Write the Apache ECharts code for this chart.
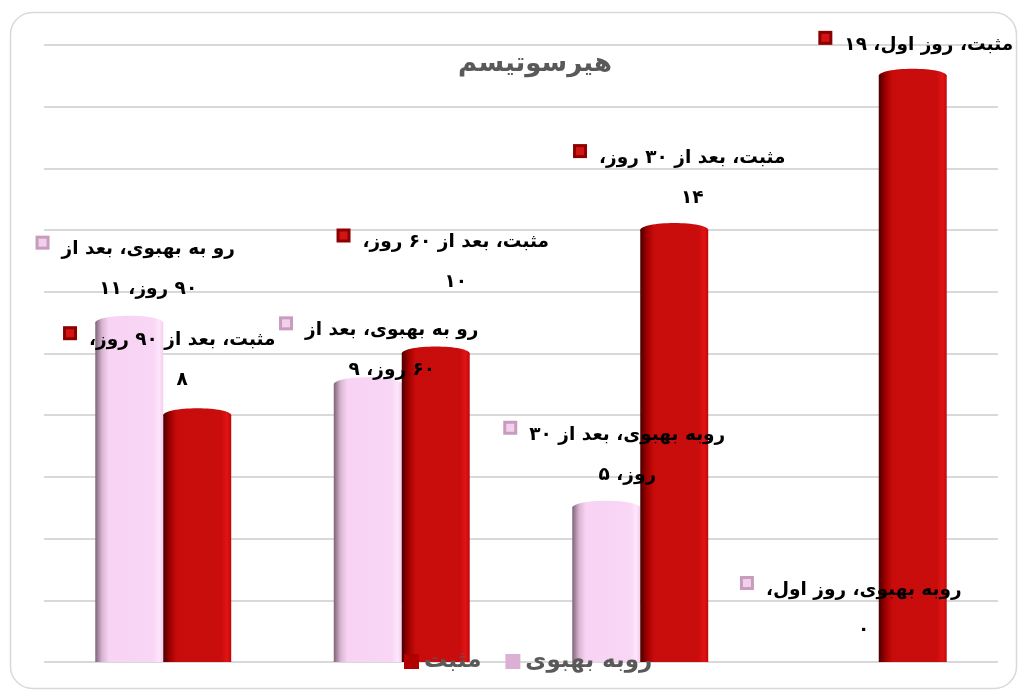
<!DOCTYPE html>
<html><head><meta charset="utf-8">
<script src="https://cdn.jsdelivr.net/npm/echarts@6/dist/echarts.min.js"></script>
<style>html,body{margin:0;padding:0;background:#fff}#c{width:1018px;height:690px;direction:rtl}</style>
</head><body><div id="c" dir="rtl"></div>
<script>
// ---- data ----
const categories = ['بعد از ۹۰ روز', 'بعد از ۶۰ روز', 'بعد از ۳۰ روز', 'روز اول'];
const improvingValues = [11, 9, 5, 0];
const positiveValues = [8, 10, 14, 19];
const seriesNames = ['روبه بهبوی', 'مثبت'];
const improvingLabelNames = ['رو به بهبوی', 'رو به بهبوی', 'روبه بهبوی', 'روبه بهبوی'];
const chartTitle = 'هیرسوتیسم';

// ---- label layout (offsets from bar top centre, words before line break) ----
const improvingLabelLayout = [[19, -73, 5], [24, -54, 5], [21, -73, 5], [19, -72, 4]];
const positiveLabelLayout = [[-15, -75, 5], [20, -111, 5], [18, -72, 5], [16, -31, 99]];

const toFa = n => String(n).replace(/\d/g, d => '۰۱۲۳۴۵۶۷۸۹'[d]);
const LABEL_FONT = 'bold 18.5px "DejaVu Sans"';
const measureCtx = document.createElement('canvas').getContext('2d');
function textWidth(t) { measureCtx.font = LABEL_FONT; return measureCtx.measureText(t).width; }

const styles = {
  pink: {
    fill: {type: 'linear', x: 0, y: 0, x2: 1, y2: 0, colorStops: [
      {offset: 0, color: '#7d6378'}, {offset: 0.1, color: '#d9b4d2'}, {offset: 0.2, color: '#f8d3f3'},
      {offset: 0.85, color: '#f9d6f5'}, {offset: 0.94, color: '#fde6fb'}, {offset: 1, color: '#f3cdee'}]},
    marker: '#c89cbe', markerInner: '#f2d0ec'
  },
  red: {
    fill: {type: 'linear', x: 0, y: 0, x2: 1, y2: 0, colorStops: [
      {offset: 0, color: '#4a0000'}, {offset: 0.1, color: '#a00000'}, {offset: 0.2, color: '#c80b0b'},
      {offset: 0.85, color: '#c90c0c'}, {offset: 0.94, color: '#e01414'}, {offset: 1, color: '#c00808'}]},
    marker: '#8c0000', markerInner: '#d41414'
  }
};

function makeRender(isPink, names, layout) {
  const st = isPink ? styles.pink : styles.red;
  return function (params, api) {
    const ci = api.value(0), v = api.value(1);
    const top = api.coord([ci, v]);
    const base = api.coord([ci, 0]);
    const bw = api.size([1, 0])[0] * 0.285;
    const cx = top[0] + (isPink ? -bw / 2 : bw / 2);
    const children = [];
    if (v > 0) {
      children.push({type: 'rect', z2: 1, shape: {x: cx - bw / 2, y: top[1], width: bw, height: base[1] - top[1]}, style: {fill: st.fill}});
      children.push({type: 'ellipse', z2: 1, shape: {cx: cx, cy: top[1], rx: bw / 2, ry: 7}, style: {fill: st.fill}});
    }
    const name = names[params.dataIndex];
    const full = name + '، ' + categories[ci] + '، ' + toFa(v);
    const words = full.split(' ');
    const lay = layout[params.dataIndex];
    const lines = [words.slice(0, lay[2]).join(' ')];
    if (words.length > lay[2]) lines.push(words.slice(lay[2]).join(' '));
    const lx = cx + lay[0], ly = top[1] + lay[1];
    lines.forEach((t, i) => {
      children.push({type: 'text', z2: 100, x: lx, y: ly + i * 40, style: {text: t, font: LABEL_FONT, fill: '#000', align: 'center', verticalAlign: 'middle'}});
    });
    const w1 = textWidth(lines[0]);
    const mx = lx - w1 / 2 - 12 - 14, my = ly - 14;
    children.push({type: 'rect', z2: 100, shape: {x: mx, y: my, width: 14, height: 14}, style: {fill: st.marker}});
    children.push({type: 'rect', z2: 101, shape: {x: mx + 3, y: my + 3, width: 8, height: 8}, style: {fill: st.markerInner}});
    return {type: 'group', children: children};
  };
}

const chart = echarts.init(document.getElementById('c'), null, {renderer: 'canvas'});
chart.setOption({
  animation: false,
  title: {text: chartTitle, left: 530, top: 46, textAlign: 'center',
    textStyle: {fontFamily: 'DejaVu Sans', fontSize: 26, fontWeight: 'bold', color: '#595959'}},
  legend: {left: 399, top: 645, itemGap: 24, itemWidth: 15, itemHeight: 15, icon: 'rect',
    textStyle: {fontFamily: 'DejaVu Sans', fontSize: 23, fontWeight: 'bold', color: '#595959'},
    data: [{name: seriesNames[1], itemStyle: {color: '#b00000'}}, {name: seriesNames[0], itemStyle: {color: '#dcb0d4'}}]},
  grid: {left: 44, right: 20, top: 45, bottom: 28},
  xAxis: {type: 'category', data: categories, axisLabel: {show: false}, axisTick: {show: false}, axisLine: {show: false}},
  yAxis: {type: 'value', min: 0, max: 20, interval: 2, axisLabel: {show: false}, axisLine: {show: false}, axisTick: {show: false},
    splitLine: {lineStyle: {color: '#d9d9d9', width: 2}}},
  graphic: [{type: 'rect', left: 8, top: 10, shape: {width: 1006, height: 676, r: 22}, style: {fill: 'none', stroke: '#d9d9d9', lineWidth: 1.5}, z: -1}],
  series: [
    {name: seriesNames[0], type: 'custom', renderItem: makeRender(true, improvingLabelNames, improvingLabelLayout),
      itemStyle: {color: '#dcb0d4'}, data: improvingValues.map((v, i) => [i, v]), encode: {x: 0, y: 1}},
    {name: seriesNames[1], type: 'custom', renderItem: makeRender(false, positiveValues.map(() => seriesNames[1]), positiveLabelLayout),
      itemStyle: {color: '#b00000'}, data: positiveValues.map((v, i) => [i, v]), encode: {x: 0, y: 1}}
  ]
});
</script></body></html>
